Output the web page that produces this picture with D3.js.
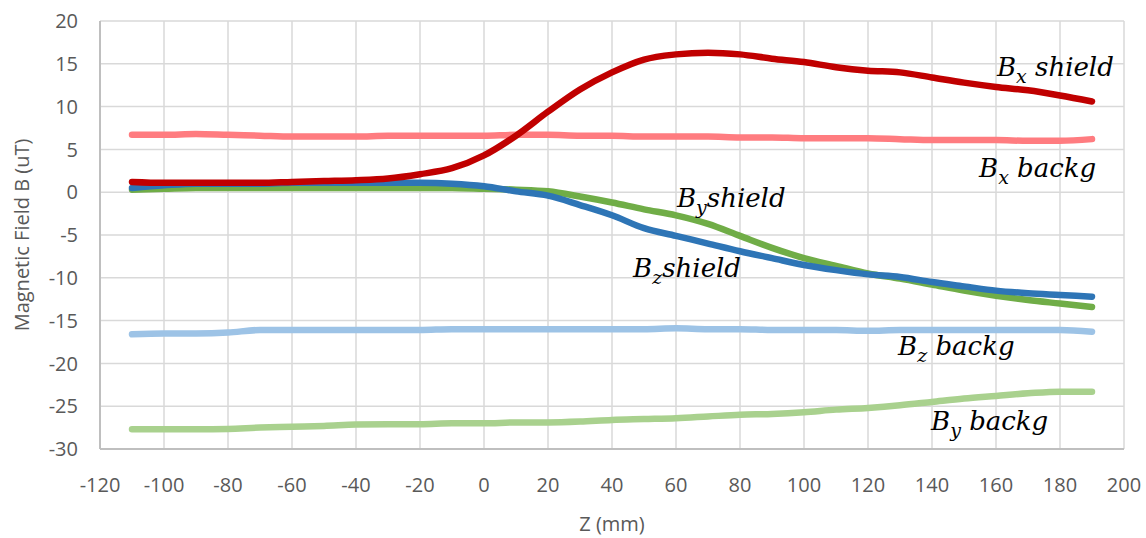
<!DOCTYPE html>
<html lang="en">
<head>
  <meta charset="UTF-8" />
  <title>Magnetic Field vs Z</title>
  <script src="https://d3js.org/d3.v7.min.js"></script>
  <style>
    body {
      margin: 0;
      padding: 0;
      background: white;
    }

    .grid-line {
      stroke: #d9d9d9;
      stroke-width: 1.5px;
    }

    .axis-line {
      stroke: #bfbfbf;
      stroke-width: 2px;
    }

    .tick-label, .axis-title {
      fill: #595959;
      font-family: "Open Sans", "Liberation Sans", sans-serif;
      font-size: 20px;
    }

    .series {
      fill: none;
      stroke-width: 6.5px;
      stroke-linecap: round;
      stroke-linejoin: round;
    }

    .series-label {
      font-family: "DejaVu Serif", "Liberation Serif", serif;
      font-style: italic;
      font-size: 26px;
      fill: black;
    }
  </style>
</head>
<body>
  <svg id="chart" width="1146" height="538"></svg>

  <script>
    const margin = { top: 21, right: 22, bottom: 89, left: 100 };
    const width = 1146 - margin.left - margin.right;
    const height = 538 - margin.top - margin.bottom;

    // Z positions (mm)
    const zValues = [-110, -100, -90, -80, -70, -60, -50, -40, -30, -20, -10, 0,
                     10, 20, 30, 40, 50, 60, 70, 80, 90, 100, 110, 120, 130, 140,
                     150, 160, 170, 180, 190];

    // Field values (uT)
    const bxShield = [1.2, 1.1, 1.1, 1.1, 1.1, 1.2, 1.3, 1.4, 1.6, 2.1, 2.8, 4.3,
                      6.6, 9.4, 12.0, 14.0, 15.5, 16.1, 16.3, 16.1, 15.6, 15.2, 14.6, 14.2, 14.0, 13.4,
                      12.8, 12.3, 11.9, 11.3, 10.6];
    const bxBackg  = [6.7, 6.7, 6.8, 6.7, 6.6, 6.5, 6.5, 6.5, 6.6, 6.6, 6.6, 6.6,
                      6.7, 6.7, 6.6, 6.6, 6.5, 6.5, 6.5, 6.4, 6.4, 6.3, 6.3, 6.3, 6.2, 6.1,
                      6.1, 6.1, 6.0, 6.0, 6.2];
    const byShield = [0.3, 0.4, 0.5, 0.5, 0.5, 0.5, 0.5, 0.5, 0.5, 0.5, 0.5, 0.4,
                      0.3, 0.1, -0.5, -1.2, -2.0, -2.7, -3.7, -5.1, -6.5, -7.7, -8.6, -9.5, -10.1, -10.8,
                      -11.5, -12.1, -12.6, -13.0, -13.4];
    const bzShield = [0.5, 0.8, 1.0, 1.0, 1.0, 1.1, 1.1, 1.1, 1.1, 1.1, 1.0, 0.7,
                      0.1, -0.4, -1.5, -2.7, -4.2, -5.1, -6.0, -6.9, -7.7, -8.5, -9.1, -9.6, -9.9, -10.5,
                      -11.0, -11.5, -11.8, -12.0, -12.2];
    const bzBackg  = [-16.6, -16.5, -16.5, -16.4, -16.1, -16.1, -16.1, -16.1, -16.1, -16.1, -16.0, -16.0,
                      -16.0, -16.0, -16.0, -16.0, -16.0, -15.9, -16.0, -16.0, -16.1, -16.1, -16.1, -16.2, -16.1, -16.1,
                      -16.1, -16.1, -16.1, -16.1, -16.3];
    const byBackg  = [-27.7, -27.7, -27.7, -27.65, -27.5, -27.4, -27.3, -27.15, -27.1, -27.1, -27.0, -27.0,
                      -26.9, -26.9, -26.8, -26.6, -26.5, -26.4, -26.2, -26.0, -25.9, -25.7, -25.4, -25.2, -24.9, -24.5,
                      -24.1, -23.8, -23.5, -23.3, -23.3];

    const seriesNames  = ["Bx shield", "Bx backg", "By shield", "Bz shield", "Bz backg", "By backg"];
    const seriesValues = [bxShield, bxBackg, byShield, bzShield, bzBackg, byBackg];
    const seriesColors = ["#c00000", "#ff7c80", "#70ad47", "#2e75b6", "#9dc3e6", "#a9d18e"];
    // drawing order: backgrounds first
    const drawOrder = [4, 5, 1, 2, 3, 0];

    // label text: base letter, subscript, rest, and anchor in data coords
    const labelBase = ["B", "B", "B", "B", "B", "B"];
    const labelSub  = ["x", "x", "y", "z", "z", "y"];
    const labelRest = [" shield", " backg", "shield", "shield", " backg", " backg"];
    const labelZ    = [160.3, 154.7, 60.3, 46.6, 129.4, 139.7];
    const labelB    = [13.6, 1.8, -1.7, -9.9, -19.0, -27.8];

    const xTicks = d3.range(-120, 201, 20);
    const yTicks = d3.range(-30, 21, 5);

    const svg = d3.select("#chart")
      .append("g")
      .attr("transform", `translate(${margin.left},${margin.top})`);

    const x = d3.scaleLinear().domain([-120, 200]).range([0, width]);
    const y = d3.scaleLinear().domain([-30, 20]).range([height, 0]);

    // grid
    svg.selectAll(".grid-x")
      .data(xTicks.slice(1))
      .join("line")
      .attr("class", "grid-line")
      .attr("x1", d => x(d)).attr("x2", d => x(d))
      .attr("y1", 0).attr("y2", height);

    svg.selectAll(".grid-y")
      .data(yTicks.slice(1))
      .join("line")
      .attr("class", "grid-line")
      .attr("x1", 0).attr("x2", width)
      .attr("y1", d => y(d)).attr("y2", d => y(d));

    // axis lines
    svg.append("line").attr("class", "axis-line")
      .attr("x1", 0).attr("x2", 0).attr("y1", 0).attr("y2", height);
    svg.append("line").attr("class", "axis-line")
      .attr("x1", 0).attr("x2", width).attr("y1", height).attr("y2", height);

    // tick labels
    svg.selectAll(".x-tick")
      .data(xTicks)
      .join("text")
      .attr("class", "tick-label")
      .attr("x", d => x(d))
      .attr("y", height + 43)
      .attr("text-anchor", "middle")
      .text(d => d);

    svg.selectAll(".y-tick")
      .data(yTicks)
      .join("text")
      .attr("class", "tick-label")
      .attr("x", -22)
      .attr("y", d => y(d))
      .attr("dy", "0.36em")
      .attr("text-anchor", "end")
      .text(d => d);

    // axis titles
    svg.append("text")
      .attr("class", "axis-title")
      .attr("x", width / 2)
      .attr("y", height + 82)
      .attr("text-anchor", "middle")
      .text("Z (mm)");

    svg.append("text")
      .attr("class", "axis-title")
      .attr("transform", `translate(${-71},${height / 2}) rotate(-90)`)
      .attr("text-anchor", "middle")
      .text("Magnetic Field B (uT)");

    // series
    const line = d3.line()
      .x((d, i) => x(zValues[i]))
      .y(d => y(d))
      .curve(d3.curveMonotoneX);

    svg.selectAll(".series")
      .data(drawOrder)
      .join("path")
      .attr("class", "series")
      .attr("stroke", i => seriesColors[i])
      .attr("d", i => line(seriesValues[i]));

    // labels
    const labels = svg.selectAll(".series-label")
      .data(d3.range(seriesNames.length))
      .join("text")
      .attr("class", "series-label")
      .attr("x", i => x(labelZ[i]))
      .attr("y", i => y(labelB[i]));

    labels.append("tspan").text(i => labelBase[i]);
    labels.append("tspan")
      .attr("dy", 7)
      .style("font-size", "19px")
      .text(i => labelSub[i]);
    labels.append("tspan")
      .attr("dy", -7)
      .text(i => labelRest[i]);
  </script>
</body>
</html>
